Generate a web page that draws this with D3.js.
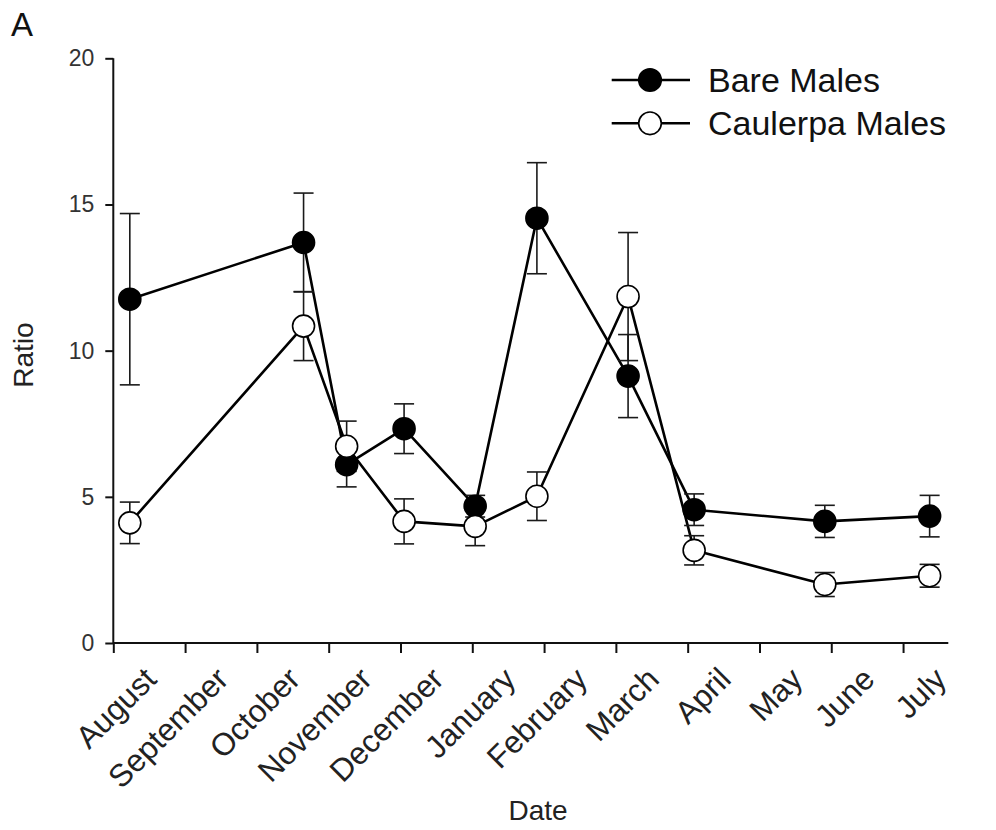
<!DOCTYPE html>
<html>
<head>
<meta charset="utf-8">
<script src="https://cdn.jsdelivr.net/npm/d3@7"></script>
<style>
  html, body { margin: 0; padding: 0; background: #fff; }
  svg { display: block; font-family: "Liberation Sans", Arial, Helvetica, sans-serif; }
</style>
</head>
<body>
<svg id="chart" width="996" height="830"></svg>
<script>
// ---- data ----
const monthLabels = ["August","September","October","November","December","January","February","March","April","May","June","July"];
// sampling position, in months from the start of August
const samplePos = [0.23, 2.65, 3.25, 4.05, 5.04, 5.90, 7.17, 8.09, 9.91, 11.37];
const bareMales = [11.76, 13.70, 6.10, 7.33, 4.68, 14.53, 9.13, 4.56, 4.16, 4.34];
const bareErr   = [2.93, 1.69, 0.76, 0.85, 0.37, 1.90, 1.42, 0.54, 0.55, 0.71];
const caulerpaMales = [4.11, 10.84, 6.73, 4.16, 3.99, 5.02, 11.85, 3.17, 2.00, 2.30];
const caulerpaErr   = [0.71, 1.18, 0.86, 0.77, 0.66, 0.83, 2.19, 0.50, 0.41, 0.39];
const yTicks = [0, 5, 10, 15, 20];
const seriesNames = ["Bare Males", "Caulerpa Males"];

// ---- layout ----
const svg = d3.select("#chart");
const x = d3.scaleLinear().domain([0, 11.63]).range([113.3, 948.3]);
const y = d3.scaleLinear().domain([0, 20]).range([643, 58.3]);

const series = [
  { name: seriesNames[0], vals: bareMales, err: bareErr, fill: "#000" },
  { name: seriesNames[1], vals: caulerpaMales, err: caulerpaErr, fill: "#fff" }
];

// panel letter
svg.append("text").attr("x", 11).attr("y", 36)
  .attr("font-size", 33).attr("fill", "#111").text("A");

// axes
const yAxis = svg.append("g").attr("transform", `translate(${x(0)},0)`)
  .call(d3.axisLeft(y).tickValues(yTicks).tickSize(8).tickPadding(11).tickFormat(d3.format("d")));
yAxis.select(".domain").attr("d", `M0,${y(20)}V${y(0)}`);
const xAxis = svg.append("g").attr("transform", `translate(0,${y(0)})`)
  .call(d3.axisBottom(x).tickValues(d3.range(12)).tickSize(10).tickFormat(""));
xAxis.select(".domain").attr("d", `M${x(0)},0H${x.range()[1]}`);
svg.selectAll(".domain").attr("stroke", "#111").attr("stroke-width", 2);
svg.selectAll(".tick line").attr("stroke", "#111").attr("stroke-width", 2);
yAxis.selectAll(".tick text").attr("font-size", 23).attr("fill", "#333")
  .attr("font-family", "Liberation Sans, Arial, sans-serif");

// rotated month labels
svg.append("g").selectAll("text").data(monthLabels).join("text")
  .attr("transform", (d, i) => `translate(${x(i) + 45},${y(0) + 38}) rotate(-45)`)
  .attr("text-anchor", "end")
  .attr("font-size", 31.5).attr("fill", "#222")
  .text(d => d);

// axis titles
svg.append("text").attr("transform", "translate(33,355) rotate(-90)")
  .attr("text-anchor", "middle").attr("font-size", 28).attr("fill", "#222").text("Ratio");
svg.append("text").attr("x", 538).attr("y", 820)
  .attr("text-anchor", "middle").attr("font-size", 28).attr("fill", "#222").text("Date");

// lines
const line = d3.line().x((d, i) => x(samplePos[i])).y(d => y(d));
series.forEach(s => {
  svg.append("path").datum(s.vals).attr("d", line)
    .attr("fill", "none").attr("stroke", "#000").attr("stroke-width", 2.6)
    .attr("stroke-linejoin", "round");
});

// error bars
series.forEach(s => {
  const g = svg.append("g").attr("stroke", "#1a1a1a").attr("stroke-width", 1.6);
  s.vals.forEach((v, i) => {
    const cx = x(samplePos[i]);
    const top = y(v + s.err[i]), bot = y(v - s.err[i]);
    g.append("line").attr("x1", cx).attr("x2", cx).attr("y1", top).attr("y2", bot);
    g.append("line").attr("x1", cx - 10).attr("x2", cx + 10).attr("y1", top).attr("y2", top);
    g.append("line").attr("x1", cx - 10).attr("x2", cx + 10).attr("y1", bot).attr("y2", bot);
  });
});

// markers
series.forEach(s => {
  svg.append("g").selectAll("circle").data(s.vals).join("circle")
    .attr("cx", (d, i) => x(samplePos[i])).attr("cy", d => y(d))
    .attr("r", 11).attr("fill", s.fill).attr("stroke", "#000").attr("stroke-width", 1.6);
});

// legend
const leg = svg.append("g");
series.forEach((s, k) => {
  const ly = 80 + k * 43.3;
  leg.append("line").attr("x1", 611.7).attr("x2", 690).attr("y1", ly).attr("y2", ly)
    .attr("stroke", "#000").attr("stroke-width", 2.6);
  leg.append("circle").attr("cx", 650).attr("cy", ly).attr("r", 11.3)
    .attr("fill", s.fill).attr("stroke", "#000").attr("stroke-width", 1.6);
  leg.append("text").attr("x", 708).attr("y", ly + 12).attr("font-size", 34)
    .attr("fill", "#111").text(s.name);
});
</script>
</body>
</html>
